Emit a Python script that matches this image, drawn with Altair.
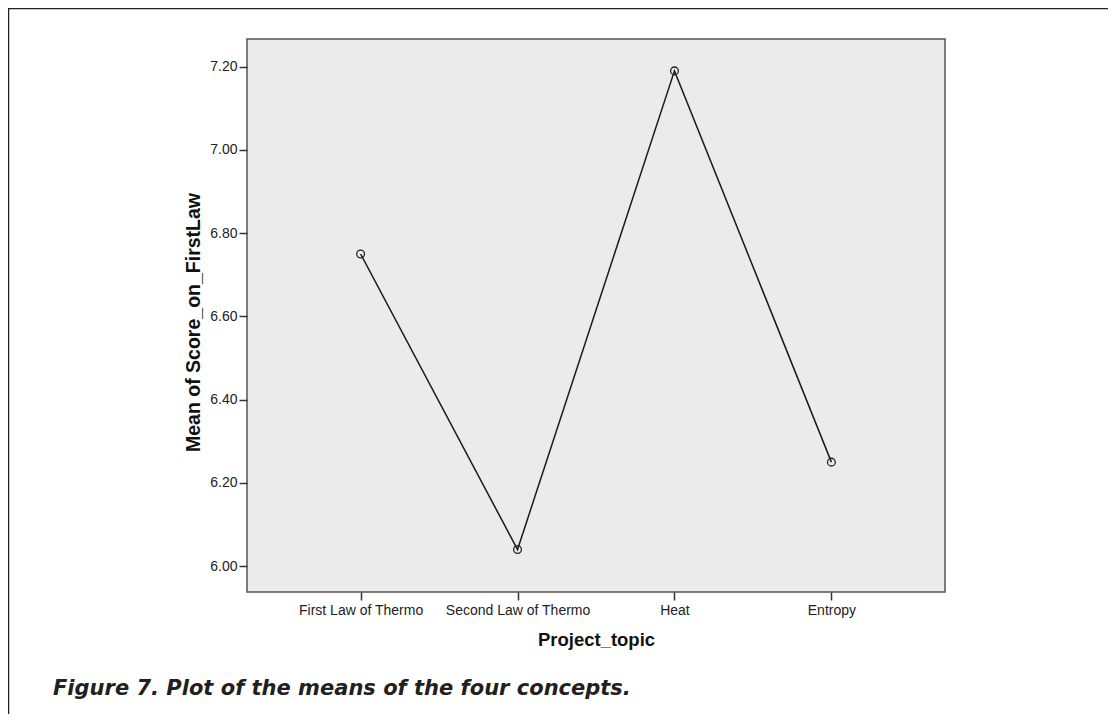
import altair as alt
import pandas as pd

topics = ["First Law of Thermo", "Second Law of Thermo", "Heat", "Entropy"]
means = [6.75, 6.04, 7.19, 6.25]
y_ticks = [6.0, 6.2, 6.4, 6.6, 6.8, 7.0, 7.2]
caption = "Figure 7. Plot of the means of the four concepts."

df = pd.DataFrame({"Project_topic": topics, "Mean": means})

W, H = 698, 553
base = alt.Chart(df).encode(
    x=alt.X("Project_topic:N", sort=topics,
            scale=alt.Scale(type="point", padding=0.724),
            axis=alt.Axis(title="Project_topic", labelAngle=0, domain=False,
                          tickSize=8, tickColor="#333", tickWidth=1.5,
                          labelFont="Liberation Sans", labelFontSize=14, labelColor="#222",
                          labelPadding=3,
                          titleFont="Liberation Sans", titleFontSize=18.5, titleFontWeight="bold",
                          titleColor="#111", titlePadding=13)),
    y=alt.Y("Mean:Q", scale=alt.Scale(domain=[5.938, 7.2666], nice=False, zero=False),
            axis=alt.Axis(title="Mean of Score_on_FirstLaw", values=y_ticks, format=".2f",
                          domain=False, grid=False,
                          tickSize=8, tickColor="#333", tickWidth=1.5,
                          labelFont="Liberation Sans", labelFontSize=14, labelColor="#222",
                          labelPadding=2,
                          titleFont="Liberation Sans", titleFontSize=19.5, titleFontWeight="bold",
                          titleColor="#111", titlePadding=6, titleY=283)),
)

line = base.mark_line(color="#1a1a1a", strokeWidth=1.5)
pts = base.mark_point(shape="circle", size=60, filled=False, color="#222", strokeWidth=1.3, opacity=1)

cap_df = pd.DataFrame({"t": [caption]})
cap = alt.Chart(cap_df).mark_text(
    align="left", baseline="alphabetic", font="DejaVu Sans", fontSize=21,
    fontStyle="italic", fontWeight="bold", color="#231f20"
).encode(text="t:N", x=alt.value(-194), y=alt.value(656))

border_top = alt.Chart(cap_df).mark_rule(color="#222", strokeWidth=1.5).encode(
    x=alt.value(-239), x2=alt.value(870), y=alt.value(-30.5))
border_left = alt.Chart(cap_df).mark_rule(color="#222", strokeWidth=1.5).encode(
    x=alt.value(-238.5), y=alt.value(-31), y2=alt.value(680))

chart = alt.layer(line, pts, cap, border_top, border_left).properties(
    width=W, height=H,
    autosize=alt.AutoSizeParams(type="none"),
    padding={"left": 239, "top": 31, "right": 163, "bottom": 122},
    background="white",
).configure_view(fill="#ebebeb", stroke="#555", strokeWidth=1.5)

chart.save("out.html", embed_options={"renderer": "svg", "actions": False})
